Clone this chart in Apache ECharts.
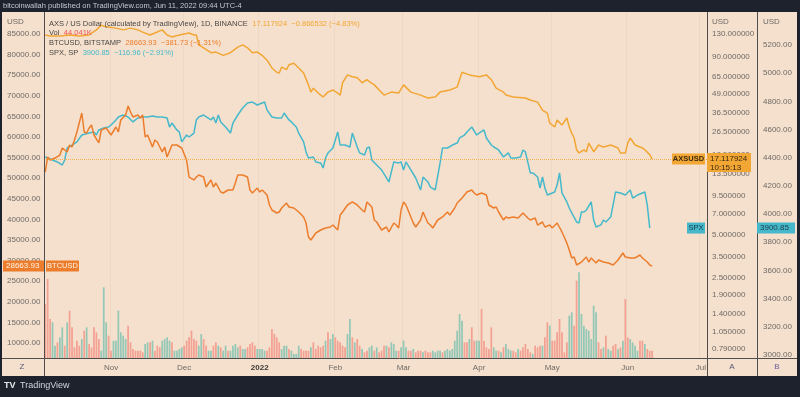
<!DOCTYPE html>
<html>
<head>
<meta charset="utf-8">
<script src="https://cdn.jsdelivr.net/npm/echarts@6.0.0/dist/echarts.min.js"></script>
<style>
  html, body { margin: 0; padding: 0; background: #1e222d; }
  #chart { width: 800px; height: 397px; }
</style>
</head>
<body>
<div id="chart"></div>
<script>
// daily candles from Oct 5, 2021; points are [day offset, close]
const START_DATE = Date.UTC(2021, 9, 5);
const DAY_COUNT = 272; // axis runs to Jul 3, 2022

const axsClose = [[0,128],[2,126],[6,126],[10,128],[14,126],[18,128],[21,139],[23,150],[25,146],[29,143],[32,139],[35,143],[38,139],[40,134],[43,128],[45,132],[48,139],[50,128],[52,124],[55,128],[59,132],[61,128],[62,128],[63,109],[68,96],[70,97],[73,92],[76,96],[79,105],[81,109],[83,104],[85,96],[87,97],[89,92],[91,85],[93,75],[95,70],[96,69],[97,76],[99,73],[100,79],[102,81],[104,75],[106,69],[108,57],[109,50.7],[110,54],[112,49.9],[114,46.8],[116,50.7],[118,52.5],[120,49.9],[121,48.3],[122,59],[124,67],[126,65],[128,64],[130,59],[132,62],[133,60],[135,57],[139,48.3],[142,50.7],[145,49.9],[147,57],[150,50.7],[154,48.3],[157,46.1],[160,46.8],[162,50.7],[166,52.5],[169,55],[171,70],[174,67],[178,65],[181,67],[183,62],[185,54],[188,50.7],[189,48.3],[192,46.8],[197,46.1],[199,44.6],[202,43.1],[204,37.9],[206,36.1],[207,30.7],[209,28.8],[210,32.2],[212,29.7],[214,33.3],[215,28.8],[216,26.1],[217,24.1],[218,19.9],[219,18.9],[221,19.9],[222,19.3],[223,22.2],[225,19.3],[227,21.5],[229,20.8],[232,21.5],[235,20.5],[236,18.9],[238,18.9],[239,22.2],[240,24.1],[242,21.5],[245,20.5],[246,19.9],[248,18.4],[249,17.117924]];

const btcClose = [[0,51500],[1,55150],[2,54420],[4,54900],[6,55630],[7,57330],[9,56360],[10,58060],[11,57575],[12,59270],[13,61215],[15,65830],[16,61215],[17,60970],[18,62190],[19,62910],[20,60490],[22,58550],[23,61700],[25,62190],[27,60490],[29,62430],[30,61215],[31,64130],[33,65340],[34,67530],[35,66070],[36,64860],[38,65340],[39,64610],[40,65340],[41,60000],[42,60490],[44,57575],[45,59270],[46,58790],[48,56360],[49,57575],[50,55150],[52,58060],[54,58060],[56,57330],[58,54420],[59,50290],[61,49570],[62,50290],[63,50780],[65,50290],[66,47870],[68,49570],[69,47870],[70,48840],[72,46650],[73,46410],[75,47140],[77,47140],[78,48840],[79,50780],[81,50780],[83,50290],[84,47140],[85,46410],[87,47620],[88,46650],[89,47140],[91,45930],[92,43500],[93,42285],[95,41560],[96,41800],[97,42770],[99,43980],[100,43010],[102,42770],[104,41800],[106,40590],[107,39130],[108,35730],[109,35000],[111,36700],[113,37430],[115,37920],[117,38160],[118,38640],[120,37430],[121,41070],[122,41800],[124,43500],[126,44230],[128,43500],[130,42285],[131,41800],[132,44230],[134,43010],[135,39860],[136,39370],[138,37430],[140,38160],[141,36950],[143,39130],[144,38640],[145,37920],[146,42285],[147,44230],[148,43500],[150,40590],[151,39130],[152,38160],[154,39860],[155,41800],[157,39130],[158,38640],[159,37920],[161,39860],[163,40590],[165,41800],[166,41070],[168,42770],[169,43980],[171,45200],[173,46650],[175,47140],[176,46410],[177,45930],[179,46410],[181,45930],[182,43500],[184,42770],[185,43010],[186,41800],[188,39860],[189,40590],[190,40340],[192,40590],[194,40340],[196,41560],[198,40340],[199,39860],[201,40340],[202,38640],[204,39370],[205,38160],[207,38640],[208,37920],[210,39130],[212,36950],[214,34280],[215,32580],[216,30640],[217,30880],[218,28940],[220,29660],[222,30880],[223,29660],[224,30640],[226,29420],[227,30150],[229,29660],[231,29420],[233,28940],[235,30150],[237,31850],[238,30880],[240,30640],[242,30640],[244,31360],[245,30640],[247,29660],[248,28940],[249,28663.93]];

const spxClose = [[0,4405],[1,4398],[3,4384],[5,4370],[7,4348],[8,4384],[9,4469],[11,4490],[13,4512],[15,4561],[18,4575],[20,4583],[21,4561],[22,4597],[24,4611],[26,4618],[27,4632],[29,4668],[30,4689],[32,4703],[34,4689],[36,4654],[37,4668],[38,4682],[40,4689],[42,4689],[44,4696],[46,4689],[48,4689],[50,4682],[51,4618],[52,4646],[54,4597],[55,4583],[56,4512],[58,4561],[59,4547],[61,4575],[62,4668],[63,4689],[65,4703],[68,4668],[69,4689],[70,4646],[71,4703],[72,4654],[74,4618],[76,4575],[77,4646],[79,4703],[81,4753],[83,4788],[85,4795],[87,4774],[89,4788],[90,4795],[91,4739],[93,4689],[95,4682],[97,4682],[98,4717],[100,4668],[101,4654],[103,4618],[104,4575],[106,4512],[107,4441],[108,4398],[110,4405],[111,4370],[113,4363],[114,4327],[115,4398],[116,4434],[118,4469],[119,4526],[120,4583],[121,4490],[123,4490],[125,4476],[126,4575],[128,4476],[129,4434],[131,4419],[132,4469],[133,4476],[134,4384],[136,4348],[138,4313],[141,4228],[143,4370],[145,4363],[146,4370],[147,4313],[148,4370],[150,4313],[152,4256],[154,4171],[155,4263],[157,4228],[158,4192],[160,4171],[162,4363],[163,4469],[165,4469],[167,4490],[169,4504],[170,4540],[172,4561],[173,4583],[175,4618],[177,4561],[178,4575],[180,4597],[181,4540],[183,4490],[184,4476],[186,4455],[188,4405],[190,4434],[191,4398],[193,4398],[195,4405],[196,4455],[197,4441],[199,4292],[200,4292],[202,4263],[203,4185],[204,4263],[205,4185],[206,4135],[208,4150],[209,4157],[210,4206],[211,4292],[212,4150],[214,4086],[215,4043],[216,4008],[218,3944],[219,3937],[220,4015],[221,4015],[222,4029],[224,4086],[225,3958],[226,3908],[228,3923],[229,3958],[230,3944],[232,3979],[234,4157],[236,4150],[238,4135],[240,4171],[241,4114],[243,4135],[245,4150],[246,4157],[247,4064],[248,3900.85]];

// AXS volume per day (K), one value per day from day 0
const axsVolK = [
  324,474,234,214,74,94,124,184,74,214, 284,184,64,104,74,114,164,184,84,64,
  184,154,114,44,424,214,134,44,104,104, 284,154,134,114,194,94,54,44,44,44,
  34,84,94,94,104,44,74,64,104,114, 124,104,94,44,44,54,64,74,104,124,
  164,114,104,74,144,114,74,44,44,74, 94,74,64,44,74,44,44,74,84,64,
  74,54,54,64,84,94,74,54,54,54, 44,44,64,174,144,124,94,54,74,74,
  54,44,24,24,74,54,44,44,44,64, 94,54,74,64,74,104,154,114,144,124,
  104,94,74,64,144,234,
  124,94,114,74,54,34,44,64,74,44, 64,34,44,74,74,64,94,84,44,44,
  64,104,64,44,44,54,34,44,44,34, 44,
  34,34,44,34,44,44,34,44,54,44, 54,104,164,264,224,94,94,114,184,104,
  104,104,294,104,64,54,184,64,44,44, 34,64,84,54,44,44,34,
  54,44,64,84,54,34,24,74,64,74, 74,124,214,194,104,104,154,234,154,34,
  94,254,274,194,464,514,264,194,174,164, 114,314,274,94,54,64,134,54,44,74,
  84,54,64,104,354,124,114,94,74,44, 104,104,84,54,44,44.041
];
// candle direction per day: u = up, d = down
const axsVolDir = (
  'ddduuduudu' + 'dddddududd' + 'ddduuudduu' + 'uuuudddddd' + 'duududdduu' +
  'uuduuuuddd' + 'ddduudduud' + 'duduuduuuu' + 'duudddduuu' + 'udddddduuu' +
  'duuuuddddu' + 'ddddduduud' + 'dddduu' +
  'duddudduud' + 'uddduduuud' + 'uuuddudddu' + 'd' +
  'dduuuuduuu' + 'uuuuuddudd' + 'uuddddduud' + 'uduuudd' +
  'uddddduddd' + 'uddudddddd' + 'duudduuuuu' + 'uuudduduud' + 'dududduuuu' + 'dduddd'
).split('');

const btcTicks = [85000,80000,75000,70000,65000,60000,55000,50000,45000,40000,35000,30000,25000,20000,15000,10000];
const axsTicks = [130,90,65,49,36.5,26.5,18.5,13.5,9.5,7,5,3.5,2.5,1.9,1.4,1.05,0.79];
const spxTicks = [5200,5000,4800,4600,4400,4200,4000,3800,3600,3400,3200,3000];
const MONTHS = ['Jan','Feb','Mar','Apr','May','Jun','Jul','Aug','Sep','Oct','Nov','Dec'];

const FONT = "'Liberation Sans', Arial, sans-serif";
const DARK = '#1e222d';
const BG = '#f5e0cd';
const C_AXS = '#f2a634';
const C_BTC = '#ec7d2c';
const C_SPX = '#45b9cb';
const C_UP = '#94c7b6';
const C_DOWN = '#f2a193';
const AX_TXT = '#6e6a66';
const RULE = '#4f4f4f';

const dates = [];
for (let i = 0; i < DAY_COUNT; i++) {
  dates.push(new Date(START_DATE + i * 864e5).toISOString().slice(0, 10));
}
const isMonthStart = (idx, v) => v.slice(8) === '01';

const chart = echarts.init(document.getElementById('chart'));

const option = {
  animation: false,
  backgroundColor: BG,
  grid: { left: 44, right: 93, top: 12, bottom: 39 },
  xAxis: {
    type: 'category',
    data: dates,
    boundaryGap: true,
    axisLine: { show: false },
    axisTick: { show: false },
    splitLine: { show: true, interval: isMonthStart, lineStyle: { color: 'rgba(120,80,40,0.05)' } },
    axisLabel: {
      interval: isMonthStart,
      margin: 6,
      color: AX_TXT,
      fontSize: 8,
      fontFamily: FONT,
      formatter: v => {
        const m = +v.slice(5, 7);
        return m === 1 ? '{y|' + v.slice(0, 4) + '}' : MONTHS[m - 1];
      },
      rich: { y: { fontWeight: 'bold', color: '#3c3a38', fontSize: 8, fontFamily: FONT } }
    }
  },
  yAxis: [
    { type: 'value', min: 6365, max: 90340, show: false },
    { type: 'log', min: 0.6814, max: 185.7, show: false },
    { type: 'value', min: 2978.7, max: 5434, show: false },
    { type: 'value', min: 0, max: 2076, show: false }
  ],
  series: [
    {
      name: 'Vol',
      type: 'bar',
      yAxisIndex: 3,
      barWidth: '72%',
      data: axsVolK.map((v, i) => ({ value: v, itemStyle: { color: axsVolDir[i] === 'u' ? C_UP : C_DOWN } }))
    },
    {
      name: 'SPX',
      type: 'line',
      yAxisIndex: 2,
      showSymbol: false,
      lineStyle: { color: C_SPX, width: 1.5 },
      data: spxClose
    },
    {
      name: 'BTCUSD',
      type: 'line',
      yAxisIndex: 0,
      showSymbol: false,
      lineStyle: { color: C_BTC, width: 1.5 },
      data: btcClose
    },
    {
      name: 'AXSUSD',
      type: 'line',
      yAxisIndex: 1,
      showSymbol: false,
      lineStyle: { color: C_AXS, width: 1.5 },
      data: axsClose,
      markLine: {
        silent: true,
        symbol: 'none',
        label: { show: false },
        lineStyle: { color: C_AXS, type: 'dotted', width: 1, opacity: 0.8 },
        data: [{ yAxis: axsClose[axsClose.length - 1][1] }]
      }
    }
  ]
};
chart.setOption(option);

// overlay: axis labels, price tags, frame
const yPx = (axis, v) => chart.convertToPixel({ yAxisIndex: axis }, v);
const font = (size, weight) => (weight || 'normal') + ' ' + size + 'px ' + FONT;
function txt(x, y, text, fill, opts) {
  opts = opts || {};
  return {
    type: 'text', z: opts.z || 70,
    style: Object.assign({
      x: x, y: y, text: text, fill: fill, font: font(opts.size || 8, opts.weight),
      align: opts.align || 'left', verticalAlign: 'middle',
      textAlign: opts.align || 'left', textVerticalAlign: 'middle'
    }, opts.extra || {})
  };
}
function rect(x, y, w, h, fill, z) {
  return { type: 'rect', z: z || 60, shape: { x: x, y: y, width: w, height: h }, style: { fill: fill } };
}
function rule(x1, y1, x2, y2) {
  return { type: 'line', z: 65, shape: { x1: x1, y1: y1, x2: x2, y2: y2 }, style: { stroke: RULE, lineWidth: 1 } };
}

const g = [];
btcTicks.forEach(v => g.push(txt(7, yPx(0, v), v.toFixed(2), AX_TXT)));
axsTicks.forEach(v => g.push(txt(712, yPx(1, v), v.toFixed(6), AX_TXT)));
spxTicks.forEach(v => g.push(txt(763, yPx(2, v), v.toFixed(2), AX_TXT)));
g.push(txt(7, 22, 'USD', AX_TXT), txt(712, 22, 'USD', AX_TXT), txt(763, 22, 'USD', AX_TXT));

// legend block
const rich = {
  n: { fill: '#4a4744', fontSize: 7.5, fontFamily: FONT },
  a: { fill: C_AXS, fontSize: 7.5, fontFamily: FONT },
  r: { fill: '#ef5350', fontSize: 7.5, fontFamily: FONT },
  b: { fill: C_BTC, fontSize: 7.5, fontFamily: FONT },
  s: { fill: C_SPX, fontSize: 7.5, fontFamily: FONT }
};
[
  [24, '{n|AXS / US Dollar (calculated by TradingView), 1D, BINANCE}  {a|17.117924  \u22120.866532 (\u22124.83%)}'],
  [33, '{n|Vol}  {r|44.041K}'],
  [43, '{n|BTCUSD, BITSTAMP}  {b|28663.93  \u2212381.73 (\u22121.31%)}'],
  [53, '{n|SPX, SP}  {s|3900.85  \u2212116.96 (\u22122.91%)}']
].forEach(l => g.push(txt(49, l[0], l[1], '#4a4744', { extra: { rich: rich } })));

// price tags
const axsLast = axsClose[axsClose.length - 1][1];
const btcLast = btcClose[btcClose.length - 1][1];
const spxLast = spxClose[spxClose.length - 1][1];
const yA = yPx(1, axsLast), yB = yPx(0, btcLast), yS = yPx(2, spxLast);
g.push(rect(672, yA - 5.5, 33, 11, C_AXS, 75));
g.push(txt(688.5, yA, 'AXSUSD', '#3a2a10', { align: 'center', weight: 'bold', size: 7.5, z: 76 }));
g.push(rect(707, yA - 6, 44, 19, C_AXS, 75));
g.push(txt(710, yA, axsLast.toFixed(6), '#3a2a10', { z: 76 }));
g.push(txt(710, yA + 8.5, '10:15:13', '#3a2a10', { z: 76 }));
g.push(rect(687, yS - 5.5, 18, 11, C_SPX, 75));
g.push(txt(696, yS, 'SPX', '#1e3a44', { align: 'center', size: 7.5, z: 76 }));
g.push(rect(757, yS - 5.5, 38, 11, C_SPX, 75));
g.push(txt(760, yS, spxLast.toFixed(2), '#1e3a44', { z: 76 }));
g.push(rect(3, yB - 5.5, 41, 11, C_BTC, 75));
g.push(txt(6, yB, btcLast.toFixed(2), '#fff4e6', { z: 76 }));
g.push(rect(46, yB - 5.5, 33, 11, C_BTC, 75));
g.push(txt(62.5, yB, 'BTCUSD', '#fff4e6', { align: 'center', size: 7.5, z: 76 }));

// panel rules
g.push(rule(2, 358.5, 797, 358.5));
g.push(rule(44.5, 12, 44.5, 376));
g.push(rule(707.5, 12, 707.5, 376));
g.push(rule(757.5, 12, 757.5, 376));
g.push(txt(22, 367, 'Z', '#5a5a78', { align: 'center' }));
g.push(txt(732, 367, 'A', '#5a5a78', { align: 'center' }));
g.push(txt(777, 367, 'B', '#6a5a98', { align: 'center' }));

// dark frame
g.push(rect(0, 0, 800, 12, DARK, 80), rect(0, 376, 800, 21, DARK, 80),
       rect(0, 0, 2, 397, DARK, 80), rect(797, 0, 3, 397, DARK, 80));
g.push(txt(3, 6, 'bitcoinwallah published on TradingView.com, Jun 11, 2022 09:44 UTC-4', '#c3c6ce', { size: 7.5, z: 85 }));
g.push(txt(4, 386, 'TV', '#e8e9ec', { weight: 'bold', size: 9, z: 85 }));
g.push(txt(20, 386, 'TradingView', '#d1d4dc', { size: 9, z: 85 }));

chart.setOption({ graphic: g });
</script>
</body>
</html>
